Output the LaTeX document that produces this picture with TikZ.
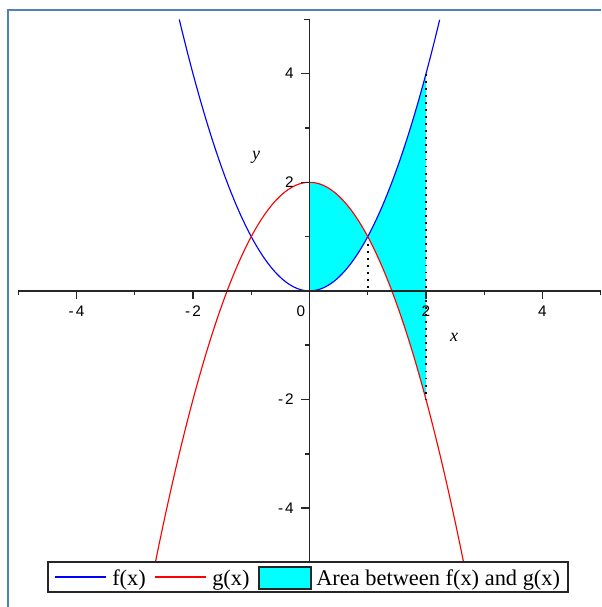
\documentclass[tikz,border=0pt]{standalone}
\usepackage{fontspec}
\setmainfont{Liberation Serif}
\newfontfamily\ticksans{Liberation Sans}
\definecolor{framec}{HTML}{4F81BD}
\definecolor{areac}{HTML}{00FFFF}
\definecolor{fblue}{HTML}{0000FF}
\definecolor{gred}{HTML}{FF0000}
\tikzset{
  axisline/.style={line width=1.1pt, draw=black!85},
  curvef/.style={line width=0.85pt, draw=fblue},
  curveg/.style={line width=0.85pt, draw=gred},
  dotline/.style={line width=1.4pt, draw=black, dash pattern=on 1.4pt off 3.9pt},
  ticklab/.style={font=\ticksans\fontsize{11.5}{13}\selectfont, inner sep=0pt},
  axlab/.style={font=\fontsize{13.5}{16}\selectfont\itshape, inner sep=0pt},
  legtext/.style={font=\fontsize{16.8}{19}\selectfont, inner sep=0pt, anchor=base west},
}
\begin{document}
\begin{tikzpicture}[x=0.75pt,y=-0.75pt]
\useasboundingbox (0,0) rectangle (601,607);
\fill[white] (0,0) rectangle (601,607);
% frame
\draw[framec, line width=1.5pt] (7.5,607) -- (7.5,9.5) -- (601,9.5);
\begin{scope}[shift={(309.5,290.9)}, x=43.6875pt, y=40.725pt]
  % shaded area
  \fill[areac] plot[domain=0:2, samples=60] (\x,{2-\x*\x})
     -- plot[domain=2:0, samples=60] (\x,{\x*\x}) -- cycle;
  % dotted lines
  \draw[dotline] (1,1) -- (1,0);
  \draw[dotline] (2,4) -- (2,-2);
  % curves
  \draw[curvef] plot[domain=-2.2361:2.2361, samples=120] (\x,{\x*\x});
  \draw[curveg] plot[domain=-2.6458:2.6458, samples=120] (\x,{2-\x*\x});
  % axes
  \draw[axisline] (-5,0) -- (5,0);
  \draw[axisline] (0,-5) -- (0,5);
  % x ticks
  \foreach \t in {-4,-2,2,4} \draw[axisline] (\t,0) -- ++(0,-6pt);
  \foreach \t in {-3,-1,1,3} \draw[axisline] (\t,0) -- ++(0,-3pt);
  \foreach \t in {-5,5} \draw[axisline] (\t,0) -- ++(0,-3pt);
  % y ticks
  \foreach \t in {-4,-2,2,4} \draw[axisline] (0,\t) -- ++(-6.75pt,0);
  \foreach \t in {-3,-1,1,3} \draw[axisline] (0,\t) -- ++(-3.75pt,0);
  \foreach \t in {-5,5} \draw[axisline] (0,\t) -- ++(-4.5pt,0);
  % x tick labels
  \node[ticklab] (xm4) at ([yshift=-15pt]-4,0) {-\kern1.5pt4};
  \node[ticklab] (xm2) at ([yshift=-15pt]-2,0) {-\kern1.5pt2};
  \node[ticklab] (x0) at ([xshift=-6.5pt,yshift=-15pt]0,0) {0};
  \node[ticklab] (x2) at ([yshift=-15pt]2,0) {2};
  \node[ticklab] (x4) at ([yshift=-15pt]4,0) {4};
  % y tick labels
  \node[ticklab, anchor=east] (y4) at ([xshift=-11.6pt]0,4) {4};
  \node[ticklab, anchor=east] (y2) at ([xshift=-11.6pt]0,2) {2};
  \node[ticklab, anchor=east] (ym2) at ([xshift=-11.6pt]0,-2) {-\kern1.5pt2};
  \node[ticklab, anchor=east] (ym4) at ([xshift=-11.6pt]0,-4) {-\kern1.5pt4};
\end{scope}
% axis labels
\node[axlab] (xlab) at (454,337) {x};
\node[axlab] (ylab) at (256,157) {y};
% legend
\draw[fill=white, line width=0.9pt, draw=black!85] (48,562) rectangle (568,592);
\draw[curvef] (55,577) -- (106,577);
\node[legtext] (lf) at (112,585) {f(x)};
\draw[curveg] (155,577) -- (206,577);
\node[legtext] (lg) at (212,585) {g(x)};
\draw[fill=areac, line width=0.9pt, draw=black!85] (259,567) rectangle (311,589);
\node[legtext] (la) at (316,585) {Area between f(x) and g(x)};
\end{tikzpicture}
\end{document}
